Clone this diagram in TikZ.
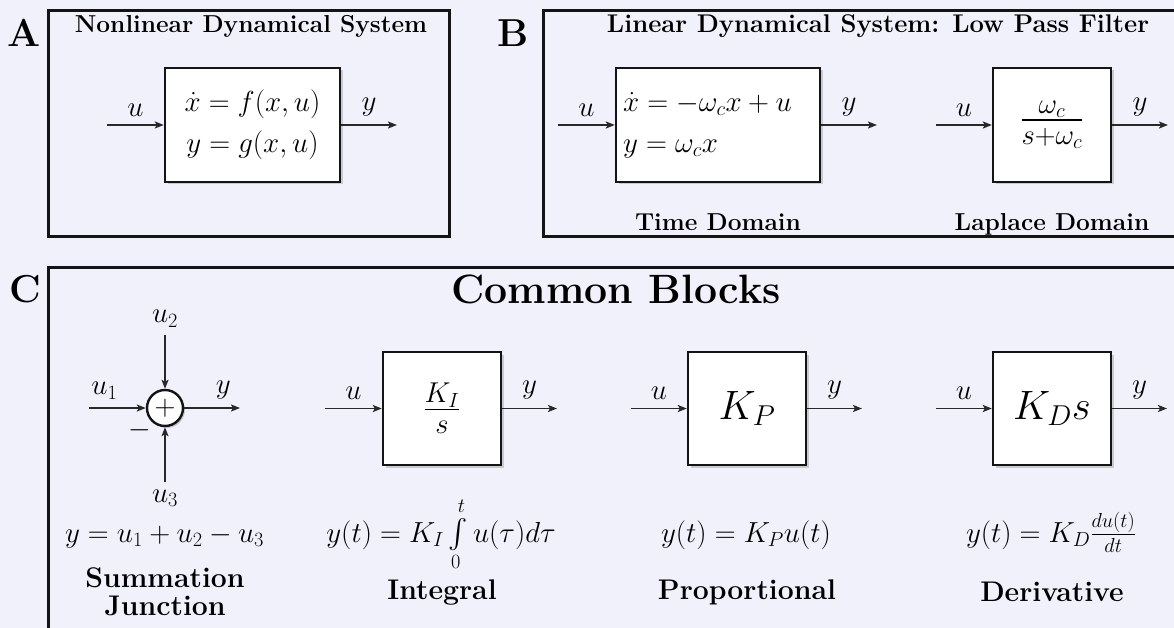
\RequirePackage{fix-cm}
\documentclass[tikz,border=0pt]{standalone}
\DeclareFontShape{OMX}{cmex}{m}{n}{<-7.5>cmex7<7.5-8.5>cmex8<8.5-9.5>cmex9<9.5->cmex10}{}
\usetikzlibrary{arrows.meta,shadows}
\definecolor{bgc}{RGB}{241,241,252}
\definecolor{ink}{RGB}{20,20,20}
\definecolor{wire}{RGB}{40,40,40}
\newcommand\myfsTitle{\fontsize{24.5}{29.4}\selectfont\bfseries}
\newcommand\myfsTitleB{\fontsize{25.6}{30}\selectfont\bfseries}
\newcommand\myfsMath{\fontsize{29}{41}\selectfont}
\newcommand\myfsBig{\fontsize{41}{50}\selectfont}
\newcommand\myfsLetter{\fontsize{39}{46}\selectfont\bfseries}
\newcommand\myfsCap{\fontsize{28.4}{28}\selectfont\bfseries}
\tikzset{
  panel/.style={draw=ink, line width=3pt},
  blk/.style={draw=ink, fill=white, line width=2.4pt,
    drop shadow={shadow xshift=2.5pt, shadow yshift=-2.5pt, opacity=0.35},
    inner sep=0pt, minimum height=114pt},
  sumj/.style={circle, draw=ink, fill=white, line width=2.4pt,
    drop shadow={shadow xshift=2pt, shadow yshift=-2pt, opacity=0.35},
    inner sep=0pt, minimum size=36pt, font=\myfsMath},
  sig/.style={draw=wire, line width=1.8pt, -{Stealth[length=9pt,width=7pt,inset=2pt]}},
  lbl/.style={font=\myfsMath, inner sep=0pt},
  ttl/.style={font=\myfsTitle, anchor=base, inner sep=0pt},
  letter/.style={font=\myfsLetter, anchor=base, inner sep=0pt},
  eqn/.style={font=\myfsMath, anchor=base, inner sep=0pt},
  capt/.style={font=\myfsCap, align=center, inner sep=0pt},
  mtext/.style={font=\myfsMath, inner sep=0pt}
}
\begin{document}
\begin{tikzpicture}[x=1pt,y=-1pt]
\useasboundingbox (0,0) rectangle (1174,628);
\clip (0,0) rectangle (1174,628);
\fill[bgc] (0,0) rectangle (1174,628);
% panels
\draw[panel] (48,11) rectangle (449,237);
\draw[panel] (543,11) rectangle (1200,237);
\draw[panel] (48,267) rectangle (1200,680);
% letters
\node[letter] (lA) at (24,47) {A};
\node[letter] (lB) at (513,47) {B};
\node[letter] (lC) at (25,302) {C};
% ---- Panel A
\node[ttl] (tA) at (251,33) {Nonlinear Dynamical System};
\node[blk, minimum width=175pt] (nl) at (252.5,125) {};
\node[mtext, align=center] (nltx) at (252.5,125) {$\dot x = f(x,u)$\\$y = g(x,u)$};
\coordinate (nlin) at (107,125);
\coordinate (nlout) at (397,125);
\draw[sig] (nlin) -- (nl.west) node[lbl, midway, above=8pt] {$u$};
\draw[sig] (nl.east) -- (nlout) node[lbl, midway, above=8pt] {$y$};
% ---- Panel B
\node[ttl, font=\myfsTitleB] (tB) at (878,33) {Linear Dynamical System: Low Pass Filter};
\node[blk, minimum width=204pt] (td) at (718,125) {};
\node[mtext, align=left, anchor=west] (tdtx) at (623,125) {$\dot x = -\omega_c x + u$\\$y = \omega_c x$};
\coordinate (tdin) at (558,125);
\coordinate (tdout) at (877,125);
\draw[sig] (tdin) -- (td.west) node[lbl, midway, above=8pt] {$u$};
\draw[sig] (td.east) -- (tdout) node[lbl, midway, above=8pt] {$y$};
\node[ttl] (tdc) at (718,230) {Time Domain};
\node[blk, minimum width=118pt, font=\myfsBig] (ld) at (1052,125) {$\frac{\omega_c}{s+\omega_c}$};
\coordinate (ldin) at (936,125);
\coordinate (ldout) at (1168,125);
\draw[sig] (ldin) -- (ld.west) node[lbl, midway, above=8pt] {$u$};
\draw[sig] (ld.east) -- (ldout) node[lbl, midway, above=8pt] {$y$};
\node[ttl] (ldc) at (1052,230) {Laplace Domain};
% ---- Panel C
\node[font=\myfsBig\bfseries, anchor=base, inner sep=0pt] (tC) at (616,303) {Common Blocks};
% summation junction
\node[sumj] (sj) at (165,408) {$+$};
\coordinate (u1s) at (89,408);
\coordinate (sjy) at (240,408);
\coordinate (u2s) at (165,335);
\coordinate (u3s) at (165,482);
\draw[sig] (u1s) -- (sj.west) node[lbl, pos=0.27, above=8pt] {$u_1$};
\draw[sig] (sj.east) -- (sjy) node[lbl, pos=0.7, above=8pt] {$y$};
\draw[sig] (u2s) -- (sj.north) node[lbl, at start, above=7pt] {$u_2$};
\draw[sig] (u3s) -- (sj.south) node[lbl, at start, below=7pt] {$u_3$};
\node[mtext] (minus) at (140,430) {$-$};
% integral
\node[blk, minimum width=118pt, minimum height=113pt, font=\myfsBig] (ib) at (442,408.5) {$\frac{K_I}{s}$};
\coordinate (ibin) at (325,408.5);
\coordinate (ibout) at (557,408.5);
\draw[sig] (ibin) -- (ib.west) node[lbl, midway, above=8pt] {$u$};
\draw[sig] (ib.east) -- (ibout) node[lbl, midway, above=8pt] {$y$};
% proportional
\node[blk, minimum width=118pt, minimum height=113pt, font=\myfsBig] (pb) at (747,408.5) {$K_P$};
\coordinate (pbin) at (631,408.5);
\coordinate (pbout) at (862,408.5);
\draw[sig] (pbin) -- (pb.west) node[lbl, midway, above=8pt] {$u$};
\draw[sig] (pb.east) -- (pbout) node[lbl, midway, above=8pt] {$y$};
% derivative
\node[blk, minimum width=118pt, minimum height=113pt, font=\myfsBig] (db) at (1052,408.5) {$K_D s$};
\coordinate (dbin) at (936,408.5);
\coordinate (dbout) at (1167,408.5);
\draw[sig] (dbin) -- (db.west) node[lbl, midway, above=8pt] {$u$};
\draw[sig] (db.east) -- (dbout) node[lbl, midway, above=8pt] {$y$};
% equations
\node[eqn] (eqS) at (164.5,542) {$y = u_1 + u_2 - u_3$};
\node[eqn] (eqI) at (441,542) {$y(t) = K_I \int\limits_0^t u(\tau) d\tau$};
\node[eqn] (eqP) at (746,542) {$y(t) = K_P u(t)$};
\node[eqn] (eqD) at (1051,542) {$y(t) = K_D \frac{du(t)}{dt}$};
% captions
\node[capt] (cS) at (165,592) {Summation\\Junction};
\node[capt] (cI) at (442,592) {Integral};
\node[capt] (cP) at (747,592) {Proportional};
\node[capt] (cD) at (1052,592) {Derivative};
\end{tikzpicture}
\end{document}
